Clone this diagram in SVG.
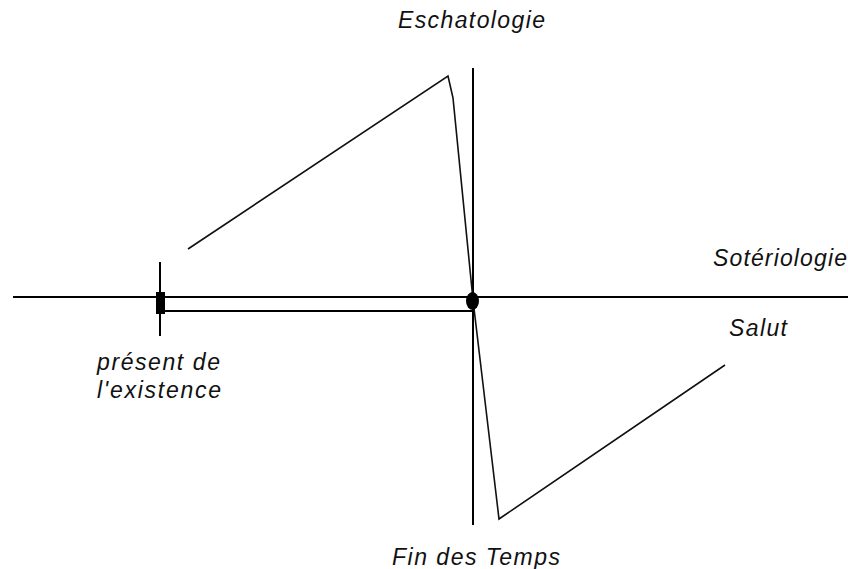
<svg xmlns="http://www.w3.org/2000/svg" width="848" height="569" viewBox="0 0 848 569">
<style>
.ax{stroke:#000;stroke-width:2;fill:none}
.dg{stroke:#111;stroke-width:1.6;fill:none;stroke-linejoin:miter}
.t{font-family:"Liberation Sans",Arial,sans-serif;font-style:italic;font-size:23px;fill:#111}
</style>
<rect width="848" height="569" fill="#fff"/>
<g id="connectors">
<line class="ax" x1="13" y1="297" x2="848" y2="297"/>
<line class="ax" x1="160" y1="311" x2="473" y2="311"/>
<line class="ax" x1="473" y1="68" x2="473" y2="525"/>
<line class="ax" x1="160" y1="262" x2="160" y2="336"/>
<polyline class="dg" points="188,249 448,76 453,98 473,300 499,519 725,365"/>
</g>
<g id="present-marker"><rect x="156" y="292" width="9" height="22" fill="#000"/></g>
<g id="fin-marker"><ellipse cx="472.5" cy="301" rx="6.5" ry="9" fill="#000"/></g>
<g id="eschatologie"><text class="t" x="398" y="28" textLength="147" lengthAdjust="spacing">Eschatologie</text></g>
<g id="soteriologie"><text class="t" x="713" y="266" textLength="134" lengthAdjust="spacing">Sotériologie</text></g>
<g id="salut"><text class="t" x="729" y="336" textLength="58" lengthAdjust="spacing">Salut</text></g>
<g id="present"><text class="t" x="97" y="370" textLength="123" lengthAdjust="spacing">présent de</text><text class="t" x="97" y="398" textLength="124" lengthAdjust="spacing">l'existence</text></g>
<g id="fin-des-temps"><text class="t" x="392" y="565" textLength="168" lengthAdjust="spacing">Fin des Temps</text></g>
</svg>
